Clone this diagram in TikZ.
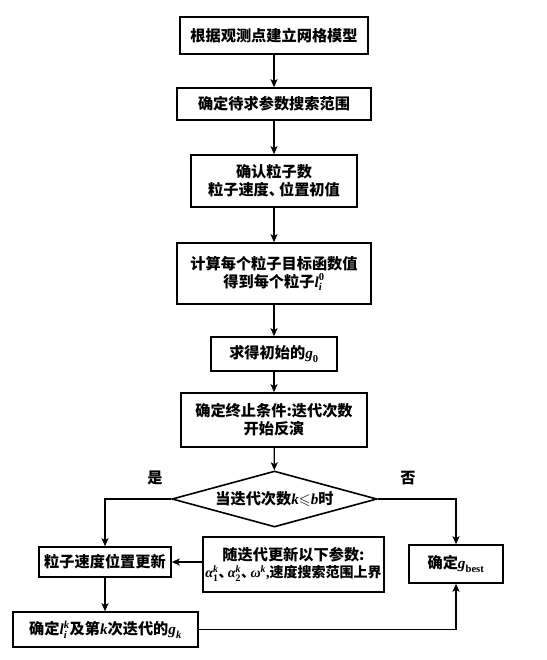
\documentclass[tikz,border=0pt]{standalone}
\usepackage{amsmath,amssymb}
\usepackage{fontspec}
\newfontfamily\cjk{Noto Sans CJK SC}
\newfontfamily\tms{Liberation Serif}
\newcommand\ii[1]{\text{\tms\bfseries\itshape #1}}
\newcommand\rr[1]{\text{\tms\bfseries #1}}
\newcommand\dun{、\kern-0.33em}
\usetikzlibrary{shapes.geometric,arrows.meta}
\begin{document}
\begin{tikzpicture}[x=1pt,y=-1pt,
  box/.style={draw,line width=1.6pt,inner sep=0pt,align=center,
    font=\cjk\bfseries\fontsize{15.2}{18}\selectfont},
  lab/.style={inner sep=0pt,font=\cjk\bfseries\fontsize{15.2}{18}\selectfont},
  conn/.style={line width=1.3pt,-{Stealth[length=8pt,width=7pt,inset=2pt]}}]
\useasboundingbox (0,0) rectangle (546,660);
\fill[white] (0,0) rectangle (546,660);
\node[box,minimum width=188pt,minimum height=37pt] (b1) at (274,35.5) {根据观测点建立网格模型};
\node[box,minimum width=194pt,minimum height=32pt] (b2) at (274,104) {确定待求参数搜索范围};
\node[box,minimum width=166pt,minimum height=52pt] (b3) at (274,181) {确认粒子数\\粒子速度\dun 位置初值};
\node[box,minimum width=194pt,minimum height=61pt] (b4) at (274,273.5) {计算每个粒子目标函数值\\得到每个粒子$\ii{l}_{\ii{i}}^{\rr{0}}$};
\node[box,minimum width=126pt,minimum height=34pt] (b5) at (274,354) {求得初始的$\ii{g}_{\rr{0}}$};
\node[box,minimum width=186pt,minimum height=54pt] (b6) at (274,420) {确定终止条件:迭代次数\\开始反演};
\node[box,diamond,aspect=3.6,minimum width=205pt,minimum height=56pt] (dia) at (274.5,499) {当迭代次数\ii{k}$\leqslant$\ii{b}时};
\node[box,minimum width=132pt,minimum height=30pt] (b7) at (105,562) {粒子速度位置更新};
\node[box,minimum width=181pt,minimum height=55pt] (b8) at (293.5,564.5) {随迭代更新以下参数:\\[-1pt]{\fontsize{14}{17}\selectfont$\ii{α}_{\rr{1}}^{\ii{k}}$\dun$\ii{α}_{\rr{2}}^{\ii{k}}$\dun$\ii{ω}^{\ii{k}}$\rr{,}速度搜索范围上界}};
\node[box,minimum width=94pt,minimum height=38pt] (b9) at (456,564) {确定$\ii{g}_{\rr{best}}$};
\node[box,minimum width=185pt,minimum height=35pt] (b10) at (105.5,629.5) {确定$\ii{l}_{\ii{i}}^{\ii{k}}$及第\ii{k}次迭代的$\ii{g}_{\ii{k}}$};
\node[lab] (yes) at (155,478) {是};
\node[lab] (no) at (408,478) {否};
\coordinate (cl) at (b7.north |- dia.west);
\coordinate (cr) at (b9.north |- dia.east);
\coordinate (cb) at (b9.south |- b10.east);
\draw[conn] (b1) -- (b2);
\draw[conn] (b2) -- (b3);
\draw[conn] (b3) -- (b4);
\draw[conn] (b4) -- (b5);
\draw[conn] (b5) -- (b6);
\draw[conn] (b6) -- (dia);
\draw[conn] (dia.west) -- (cl) -- (b7.north);
\draw[conn] (dia.east) -- (cr) -- (b9.north);
\draw[conn] (b8.west |- b7.east) -- (b7.east);
\draw[conn] (b7.south) -- (b7.south |- b10.north);
\draw[conn] (b10.east) -- (cb) -- (b9.south);
\end{tikzpicture}
\end{document}
